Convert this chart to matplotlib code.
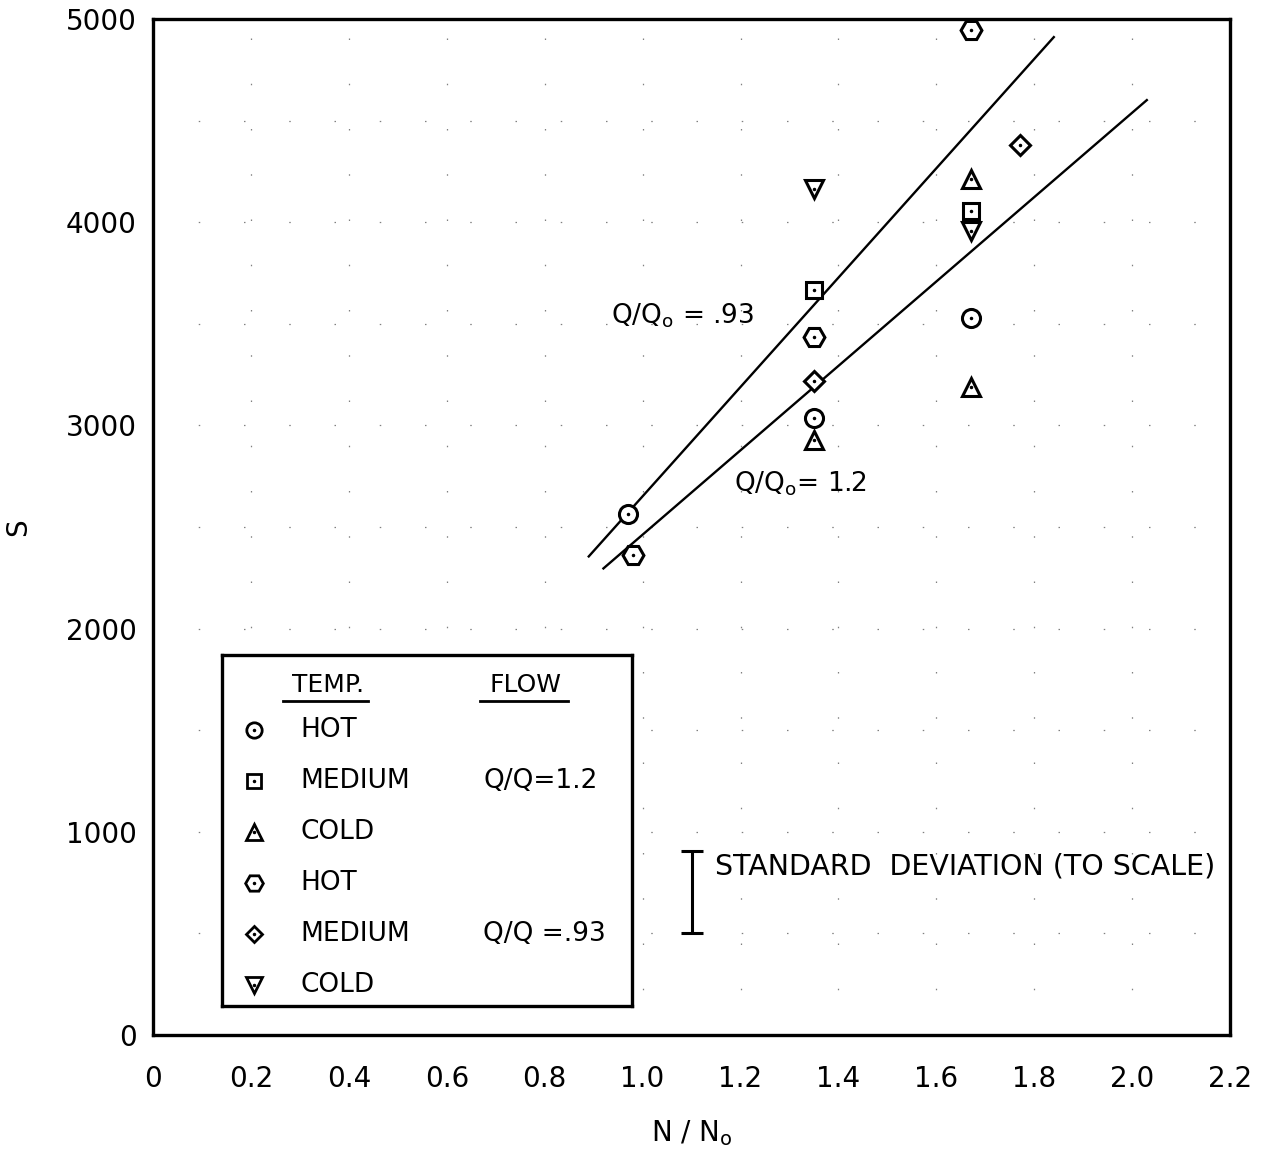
import matplotlib.pyplot as plt
from matplotlib.lines import Line2D

plt.rcParams['font.family'] = ['DejaVu Sans']

# measured points, grouped by temperature and flow ratio
hot_12_x = [0.97, 1.35, 1.67]
hot_12_y = [2565, 3035, 3530]
med_12_x = [1.35, 1.67]
med_12_y = [3665, 4055]
cold_12_x = [1.35, 1.67, 1.67]
cold_12_y = [2930, 4215, 3190]

hot_93_x = [0.98, 1.35, 1.67]
hot_93_y = [2360, 3435, 4945]
med_93_x = [1.35, 1.77]
med_93_y = [3220, 4380]
cold_93_x = [1.35, 1.67]
cold_93_y = [4165, 3955]

# fitted lines
fit_93_x = [0.89, 1.84]
fit_93_y = [2355, 4911]
fit_12_x = [0.92, 2.03]
fit_12_y = [2296, 4601]

# standard deviation bar
sd_x = 1.10
sd_lo, sd_hi = 500, 905

x_ticks = [0, 0.2, 0.4, 0.6, 0.8, 1.0, 1.2, 1.4, 1.6, 1.8, 2.0, 2.2]
x_labels = ['0', '0.2', '0.4', '0.6', '0.8', '1.0', '1.2', '1.4', '1.6', '1.8', '2.0', '2.2']
y_ticks = [0, 1000, 2000, 3000, 4000, 5000]

groups = [
    (hot_12_x, hot_12_y, 'o', 13, 'HOT', ''),
    (med_12_x, med_12_y, 's', 12, 'MEDIUM', 'Q/Q=1.2'),
    (cold_12_x, cold_12_y, '^', 13, 'COLD', ''),
    (hot_93_x, hot_93_y, 'H', 15, 'HOT', ''),
    (med_93_x, med_93_y, 'D', 10, 'MEDIUM', 'Q/Q =.93'),
    (cold_93_x, cold_93_y, 'v', 13, 'COLD', ''),
]

fig = plt.figure(figsize=(12.66, 11.53), dpi=100)
ax = fig.add_axes([0.1209, 0.1024, 0.8507, 0.8811])
ax.set_xlim(0, 2.2)
ax.set_ylim(0, 5000)

# sparse dotted grid
for gx in [0.2, 0.4, 0.6, 0.8, 1.0, 1.2, 1.4, 1.6, 1.8, 2.0]:
    ax.axvline(gx, color='0.5', lw=0.9, ls=(0, (1.2, 35)), zorder=0)
for gy in range(500, 5000, 500):
    ax.axhline(gy, color='0.5', lw=0.9, ls=(0, (1.2, 35)), zorder=0)

ax.plot(fit_93_x, fit_93_y, color='black', lw=1.7)
ax.plot(fit_12_x, fit_12_y, color='black', lw=1.7)

for xs, ys, m, ms, _, _ in groups:
    ax.plot(xs, ys, ls='none', marker=m, ms=ms, mfc='white', mec='black', mew=2.2, zorder=3)
    ax.plot(xs, ys, ls='none', marker='.', ms=3, color='black', zorder=4)

ax.errorbar([sd_x], [(sd_lo + sd_hi) / 2], yerr=[(sd_hi - sd_lo) / 2],
            color='black', lw=2.2, capsize=8, capthick=2.2)
ax.text(1.147, 830, 'STANDARD  DEVIATION (TO SCALE)', fontsize=20.5, va='center')

ax.text(0.935, 3540, r'Q/Q$_\mathregular{o}$ = .93', fontsize=19, va='center')
ax.text(1.187, 2715, r'Q/Q$_\mathregular{o}$= 1.2', fontsize=19, va='center')

ax.set_xticks(x_ticks)
ax.set_xticklabels(x_labels)
ax.set_yticks(y_ticks)
ax.tick_params(axis='x', length=0, pad=22, labelsize=20)
ax.tick_params(axis='y', length=0, pad=12, labelsize=20)
for s in ax.spines.values():
    s.set_linewidth(2.4)

ax.set_xlabel(r'N / N$_\mathregular{o}$', fontsize=20, labelpad=18)
ax.set_ylabel('S', fontsize=20, labelpad=24)

# legend box drawn in its own axes, units are pixels of the box
lg = fig.add_axes([0.1754, 0.1275, 0.3238, 0.3045])
lg.set_xlim(0, 410)
lg.set_ylim(351, 0)
lg.set_xticks([])
lg.set_yticks([])
for s in lg.spines.values():
    s.set_linewidth(2.4)

lg.text(106, 30, 'TEMP.', fontsize=18, ha='center', va='center')
lg.add_line(Line2D([61, 146], [46, 46], color='black', lw=2))
lg.text(303, 30, 'FLOW', fontsize=18, ha='center', va='center')
lg.add_line(Line2D([258, 346], [46, 46], color='black', lw=2))

row_y = 75
for _, _, m, ms, temp, flow in groups:
    lg.plot([32], [row_y], ls='none', marker=m, ms=ms * 0.85, mfc='white', mec='black', mew=2)
    lg.plot([32], [row_y], ls='none', marker='.', ms=3, color='black')
    lg.text(78, row_y, temp, fontsize=19, va='center')
    if flow:
        lg.text(261, row_y, flow, fontsize=19, va='center')
    row_y += 51

fig.savefig('out.png', dpi=100)
